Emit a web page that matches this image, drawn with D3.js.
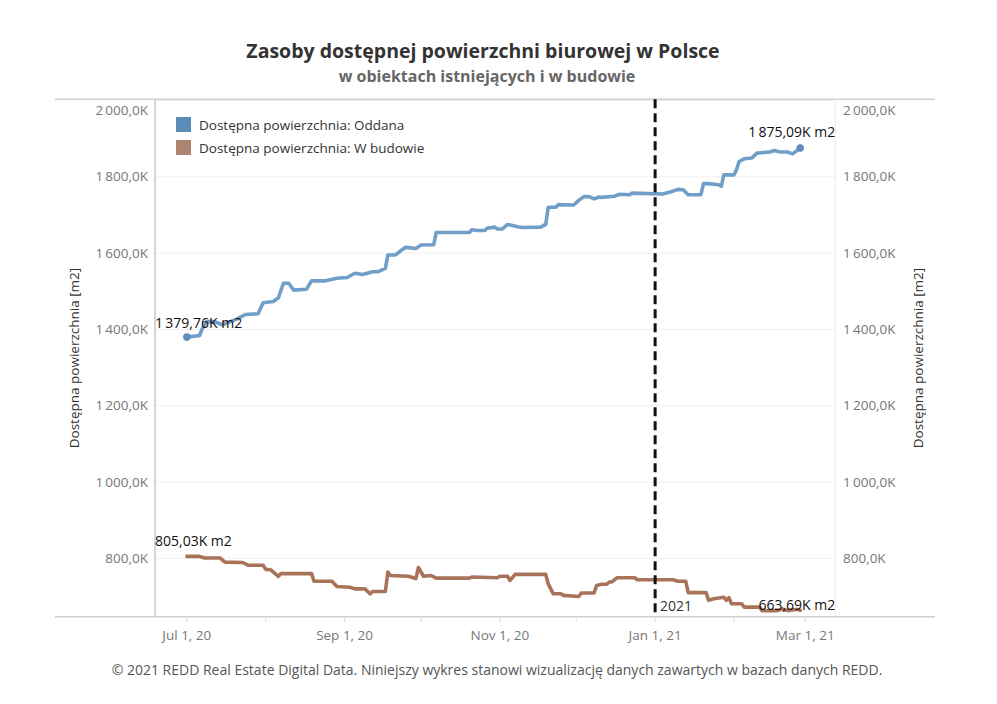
<!DOCTYPE html>
<html>
<head>
<meta charset="utf-8">
<script src="https://cdn.jsdelivr.net/npm/d3@7"></script>
<style>
  html, body { margin: 0; padding: 0; background: #fff; }
  svg { display: block; font-family: "Open Sans", "Noto Sans", sans-serif; }
</style>
</head>
<body>
<svg id="chart" width="997" height="704"></svg>
<script>
// ---------------- DATA ----------------
const titleText = "Zasoby dostępnej powierzchni biurowej w Polsce";
const subtitleText = "w obiektach istniejących i w budowie";
const footerText = "© 2021 REDD Real Estate Digital Data. Niniejszy wykres stanowi wizualizację danych zawartych w bazach danych REDD.";
const axisTitle = "Dostępna powierzchnia [m2]";
const seriesNames = ["Dostępna powierzchnia: Oddana", "Dostępna powierzchnia: W budowie"];

const yTicks = [800, 1000, 1200, 1400, 1600, 1800, 2000];
const xLabelDates = ["2020-07-01", "2020-09-01", "2020-11-01", "2021-01-01", "2021-03-01"];
const xMinorDates = ["2020-08-01", "2020-10-01", "2020-12-01", "2021-02-01"];
const markerDate = "2021-01-01";
const markerLabel = "2021";

const oddanaDates = ["2020-07-01","2020-07-06","2020-07-07","2020-07-09","2020-07-12","2020-07-15","2020-07-21","2020-07-24","2020-07-29","2020-07-31",
  "2020-08-04","2020-08-06","2020-08-08","2020-08-10","2020-08-12","2020-08-17","2020-08-19","2020-08-24","2020-08-29","2020-09-02",
  "2020-09-05","2020-09-08","2020-09-12","2020-09-14","2020-09-17","2020-09-18","2020-09-21","2020-09-23","2020-09-25","2020-09-29",
  "2020-10-01","2020-10-06","2020-10-07","2020-10-20","2020-10-21","2020-10-23","2020-10-26","2020-10-27","2020-10-30","2020-10-31",
  "2020-11-02","2020-11-04","2020-11-06","2020-11-08","2020-11-10","2020-11-17","2020-11-19","2020-11-20","2020-11-23","2020-11-24",
  "2020-11-30","2020-12-02","2020-12-04","2020-12-06","2020-12-08","2020-12-10","2020-12-11","2020-12-16","2020-12-18","2020-12-22",
  "2020-12-23","2021-01-04","2021-01-07","2021-01-10","2021-01-12","2021-01-14","2021-01-19","2021-01-20","2021-01-22","2021-01-26",
  "2021-01-27","2021-01-28","2021-02-01","2021-02-02","2021-02-03","2021-02-05","2021-02-08","2021-02-10","2021-02-15","2021-02-17",
  "2021-02-19","2021-02-22","2021-02-24","2021-02-27"];
const oddanaValues = [1379.76,1384,1401,1421,1420,1412,1428,1439,1441,1470,
  1473,1483,1521,1521,1503,1505,1527,1527,1534,1536,
  1547,1544,1551,1551,1560,1595,1595,1606,1615,1612,
  1621,1622,1654,1654,1661,1659,1659,1665,1668,1663,
  1663,1675,1672,1669,1667,1668,1675,1720,1720,1727,
  1726,1738,1748,1748,1742,1747,1746,1749,1754,1753,
  1757,1755,1760,1767,1766,1753,1753,1782,1782,1779,
  1775,1805,1805,1819,1840,1847,1849,1862,1865,1869,
  1865,1865,1860,1875.09];

const budowaDates = ["2020-07-01","2020-07-06","2020-07-08","2020-07-14","2020-07-16","2020-07-23","2020-07-25","2020-07-31","2020-08-01","2020-08-03",
  "2020-08-06","2020-08-07","2020-08-19","2020-08-20","2020-08-27","2020-08-29","2020-09-03","2020-09-05","2020-09-09","2020-09-11",
  "2020-09-12","2020-09-17","2020-09-18","2020-09-19","2020-09-26","2020-09-29","2020-09-30","2020-10-02","2020-10-05","2020-10-07",
  "2020-10-20","2020-10-21","2020-10-31","2020-11-01","2020-11-04","2020-11-05","2020-11-07","2020-11-19","2020-11-20","2020-11-22",
  "2020-11-25","2020-11-26","2020-12-02","2020-12-03","2020-12-08","2020-12-09","2020-12-11","2020-12-13","2020-12-14","2020-12-15",
  "2020-12-17","2020-12-24","2020-12-25","2021-01-08","2021-01-10","2021-01-13","2021-01-14","2021-01-21","2021-01-22","2021-01-24",
  "2021-01-28","2021-01-29","2021-01-30","2021-01-31","2021-02-04","2021-02-05","2021-02-11","2021-02-12","2021-02-18","2021-02-20",
  "2021-02-22","2021-02-25","2021-02-26","2021-02-27"];
const budowaValues = [805.03,805,801,801,790,789,782,782,771,770,
  753,760,760,740,740,726,724,720,720,707,
  713,713,764,755,753,747,776,753,755,748,
  748,751,749,753,753,742,758,758,733,707,
  707,703,700,709,709,729,732,732,738,738,
  749,749,744,744,740,740,710,710,690,694,
  698,690,697,681,681,672,672,663,663,667,
  663,666,666,663.69];

// ---------------- SETUP ----------------
const svg = d3.select("#chart");
const plot = { left: 155, right: 835.3, top: 99.3, bottom: 616.7 };
const frame = { left: 55, right: 935 };
const parse = d3.utcParse("%Y-%m-%d");

const x = d3.scaleUtc()
  .domain([new Date(Date.UTC(2020, 5, 18, 12)), new Date(Date.UTC(2021, 2, 12, 19))])
  .range([plot.left, plot.right]);
const y = d3.scaleLinear().domain([647, 2003]).range([plot.bottom, plot.top]);

const pl = d3.formatLocale({ decimal: ",", thousands: "\u2009", grouping: [3], currency: ["", ""] });
const fTick = v => pl.format(",.1f")(v) + "K";
const fLab = v => pl.format(",.2f")(v) + "K m2";
const fDate = d3.utcFormat("%b %-d, %y");

const colBlueLine = "#719ec8", colBrownLine = "#a9735a";
const colBlueSw = "#5b8bb6", colBrownSw = "#ad8470";

// ---------------- TITLES ----------------
svg.append("text").attr("x", 483).attr("y", 58).attr("text-anchor", "middle")
  .attr("font-size", 19.5).attr("font-weight", 700).attr("fill", "#333").text(titleText);
svg.append("text").attr("x", 487).attr("y", 82).attr("text-anchor", "middle")
  .attr("font-size", 16).attr("font-weight", 700).attr("fill", "#666").text(subtitleText);

// ---------------- GRID ----------------
svg.append("g").selectAll("line").data(yTicks).join("line")
  .attr("x1", plot.left).attr("x2", plot.right)
  .attr("y1", d => y(d)).attr("y2", d => y(d))
  .attr("stroke", "#efefef").attr("stroke-width", 1);

svg.append("line").attr("x1", frame.left).attr("x2", frame.right).attr("y1", plot.top).attr("y2", plot.top)
  .attr("stroke", "#cfcfcf").attr("stroke-width", 1.5);
svg.append("line").attr("x1", frame.left).attr("x2", frame.right).attr("y1", plot.bottom).attr("y2", plot.bottom)
  .attr("stroke", "#cfcfcf").attr("stroke-width", 1.5);
svg.append("line").attr("x1", plot.left).attr("x2", plot.left).attr("y1", plot.top).attr("y2", plot.bottom)
  .attr("stroke", "#d6d6d6").attr("stroke-width", 2);
svg.append("line").attr("x1", plot.right).attr("x2", plot.right).attr("y1", plot.top).attr("y2", plot.bottom)
  .attr("stroke", "#ececec").attr("stroke-width", 1);

// ---------------- Y AXES ----------------
const yLabY = d => Math.max(y(d), plot.top + 11);
svg.append("g").selectAll("text").data(yTicks).join("text")
  .attr("x", 148).attr("y", yLabY).attr("dy", "0.35em").attr("text-anchor", "end")
  .attr("font-size", 13.5).attr("fill", "#777").text(fTick);
svg.append("g").selectAll("text").data(yTicks).join("text")
  .attr("x", 843).attr("y", yLabY).attr("dy", "0.35em").attr("text-anchor", "start")
  .attr("font-size", 13.5).attr("fill", "#777").text(fTick);

svg.append("text").attr("transform", `translate(79,${(plot.top + plot.bottom) / 2}) rotate(-90)`)
  .attr("text-anchor", "middle").attr("font-size", 13.5).attr("fill", "#333").text(axisTitle);
svg.append("text").attr("transform", `translate(923,${(plot.top + plot.bottom) / 2}) rotate(-90)`)
  .attr("text-anchor", "middle").attr("font-size", 13.5).attr("fill", "#333").text(axisTitle);

// ---------------- X AXIS ----------------
const allTickDates = xLabelDates.concat(xMinorDates).map(parse);
svg.append("g").selectAll("line").data(allTickDates).join("line")
  .attr("x1", d => x(d)).attr("x2", d => x(d))
  .attr("y1", plot.bottom + 1).attr("y2", plot.bottom + 5)
  .attr("stroke", "#dcdcdc").attr("stroke-width", 1);
svg.append("g").selectAll("text").data(xLabelDates.map(parse)).join("text")
  .attr("x", d => x(d)).attr("y", 640).attr("text-anchor", "middle")
  .attr("font-size", 13.5).attr("fill", "#777").text(fDate);

// ---------------- LINES ----------------
const blueData = oddanaDates.map((d, i) => ({ date: parse(d), value: oddanaValues[i] }));
const brownData = budowaDates.map((d, i) => ({ date: parse(d), value: budowaValues[i] }));
const line = d3.line().x(d => x(d.date)).y(d => y(d.value));

svg.append("path").datum(brownData).attr("d", line).attr("fill", "none")
  .attr("stroke", colBrownLine).attr("stroke-width", 3.6).attr("stroke-linejoin", "round").attr("stroke-linecap", "round");
svg.append("path").datum(blueData).attr("d", line).attr("fill", "none")
  .attr("stroke", colBlueLine).attr("stroke-width", 3.6).attr("stroke-linejoin", "round").attr("stroke-linecap", "round");

[blueData[0], blueData[blueData.length - 1]].forEach(p => {
  svg.append("circle").attr("cx", x(p.date)).attr("cy", y(p.value)).attr("r", 3.8).attr("fill", "#5f8fbd");
});

// ---------------- MARKER LINE ----------------
const mX = x(parse(markerDate));
svg.append("line").attr("x1", mX).attr("x2", mX).attr("y1", plot.top).attr("y2", plot.bottom)
  .attr("stroke", "#111").attr("stroke-width", 3).attr("stroke-dasharray", "9,5");
svg.append("text").attr("x", mX + 5).attr("y", 611).attr("font-size", 14).attr("fill", "#333").text(markerLabel);

// ---------------- POINT LABELS ----------------
function pointLabel(p, dy) {
  const t = svg.append("text").attr("font-size", 14).attr("fill", "#111").attr("text-anchor", "middle")
    .attr("y", y(p.value) + dy).text(fLab(p.value));
  const w = t.node().getComputedTextLength();
  const cx = Math.min(Math.max(x(p.date), plot.left + w / 2), plot.right - w / 2);
  t.attr("x", cx);
}
pointLabel(blueData[0], -9);
pointLabel(blueData[blueData.length - 1], -11);
pointLabel(brownData[0], -10);
pointLabel(brownData[brownData.length - 1], 0);

// ---------------- LEGEND ----------------
const lg = svg.append("g");
[[seriesNames[0], colBlueSw], [seriesNames[1], colBrownSw]].forEach((s, i) => {
  lg.append("rect").attr("x", 176).attr("y", 117 + i * 23).attr("width", 15).attr("height", 15).attr("fill", s[1]);
  lg.append("text").attr("x", 199).attr("y", 129.5 + i * 23).attr("font-size", 13.5).attr("fill", "#333").text(s[0]);
});

// ---------------- FOOTER ----------------
svg.append("text").attr("x", 497).attr("y", 675).attr("text-anchor", "middle")
  .attr("font-size", 14).attr("fill", "#555").text(footerText);
</script>
</body>
</html>
